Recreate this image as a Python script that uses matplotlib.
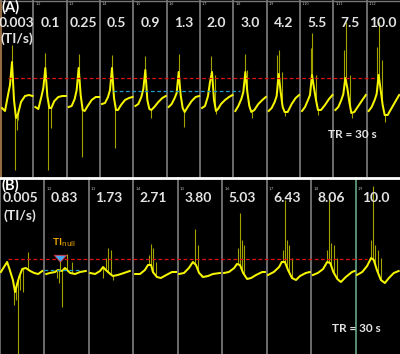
import numpy as np
import matplotlib
matplotlib.use("Agg")
import matplotlib.pyplot as plt

plt.rcParams['font.family'] = ['Lato', 'DejaVu Sans']

##########################################
# 数据 (A)：12 段，每段在相同的相对时间点上取值
##########################################
a_labels = ["0.003", "0.1", "0.25", "0.5", "0.9", "1.3", "2.0", "3.0", "4.2", "5.5", "7.5", "10.0"]
a_t = [0.06, 0.15, 0.24, 0.30, 0.36, 0.42, 0.48, 0.54, 0.63, 0.75, 0.87, 0.975]
a_trace = [
    [-8, -11, 5, 15, 38, 0, -18, -14, -2, 4, 5, 4],
    [-7, -9, 3, 12, 32, 4, -8, -8, -1, 3, 4, 4],
    [-7, -6, 1, 10, 32, 5, -10, -11, -6, 0, 3, 3],
    [-4, -3, 3, 10, 32, 2, -10, -10, -5, 0, 2, 3],
    [-6, -4, 3, 11, 30, 0, -9, -10, -7, -2, 2, 4],
    [-7, -4, 2, 7, 28, 5, -8, -12, -7, -1, 3, 4],
    [-8, -6, 4, 18, 28, 0, -11, -9, -4, 0, 3, 5],
    [-11, -6, 1, 8, 28, 8, -6, -12, -10, -4, 0, 3],
    [-11, -8, -2, 4, 26, 8, -7, -12, -12, -4, 2, 5],
    [-11, -7, 0, 5, 25, 12, 0, -10, -10, -5, 1, 5],
    [-10, -7, 0, 6, 22, 12, -2, -13, -12, -6, 0, 5],
    [-11, -7, 0, 6, 25, 10, -5, -15, -15, -8, -1, 5],
]
# 细尖峰 (段号, 相对时间, 端点幅值)
a_up = [(0, 0.36, 55), (1, 0.35, 47), (2, 0.37, 46), (3, 0.36, 45), (4, 0.35, 44),
        (5, 0.37, 46), (6, 0.33, 44), (6, 0.45, 25), (7, 0.35, 46), (7, 0.42, 30),
        (8, 0.31, 45), (8, 0.37, 50), (8, 0.45, 28), (9, 0.33, 52), (9, 0.36, 67),
        (9, 0.48, 25), (10, 0.32, 50), (10, 0.38, 78), (10, 0.50, 25),
        (11, 0.31, 53), (11, 0.37, 78), (11, 0.47, 40)]
a_down = [(0, 0.45, -70), (0, 0.51, -30), (0, 0.55, -20), (1, 0.44, -70), (1, 0.53, -28),
          (2, 0.46, -57), (3, 0.45, -48), (4, 0.53, -18), (5, 0.52, -27), (6, 0.48, -14),
          (7, 0.55, -18), (8, 0.55, -16), (9, 0.55, -15), (10, 0.56, -18), (11, 0.55, -22)]
a_red_level = 22
a_blue_level = 9

##########################################
# 数据 (B)：9 段
##########################################
b_labels = ["0.005", "0.83", "1.73", "2.71", "3.80", "5.03", "6.43", "8.06", "10.0"]
b_t = [
    [0.02, 0.09, 0.16, 0.22, 0.29, 0.34, 0.38, 0.43, 0.50, 0.58, 0.68, 0.77, 0.86, 0.95],
    [0.04, 0.12, 0.24, 0.30, 0.40, 0.46, 0.58, 0.69, 0.80, 0.93],
    [0.03, 0.14, 0.25, 0.32, 0.38, 0.48, 0.54, 0.65, 0.79, 0.92],
    [0.04, 0.15, 0.26, 0.33, 0.40, 0.44, 0.53, 0.62, 0.74, 0.87, 0.96],
    [0.03, 0.14, 0.25, 0.34, 0.41, 0.48, 0.57, 0.68, 0.79, 0.95],
    [0.04, 0.15, 0.27, 0.33, 0.40, 0.47, 0.56, 0.65, 0.76, 0.90, 0.96],
    [0.03, 0.16, 0.28, 0.34, 0.41, 0.48, 0.57, 0.66, 0.75, 0.88, 0.97],
    [0.04, 0.15, 0.27, 0.36, 0.43, 0.50, 0.59, 0.67, 0.78, 0.92, 0.98],
    [0.03, 0.15, 0.26, 0.35, 0.41, 0.48, 0.57, 0.66, 0.75, 0.86, 0.97],
]
b_trace = [
    [0, 5, 10, 2, -8, -20, -13, -5, 3, 4, 1, -1, -2, 1],
    [-2, -1, 0, 2, 1, 4, -1, -2, 0, 1],
    [-1, -2, 1, 5, 2, -2, -4, -3, -1, 1],
    [-2, -2, 2, 7, 7, 0, -5, -6, -3, 0, 0],
    [-2, -1, 4, 10, 7, -1, -5, -4, -2, -1],
    [-1, 0, 4, 8, 7, -1, -7, -6, -3, 0, 0],
    [-3, 0, 5, 10, 10, 2, -6, -8, -4, -1, 0],
    [-3, -1, 3, 10, 9, 0, -7, -10, -5, 0, 1],
    [-3, 0, 6, 14, 12, 2, -8, -11, -6, -1, 1],
]
b_up = [(0, 0.63, 20), (1, 0.35, 16), (1, 0.51, 18), (1, 0.62, 10),
        (2, 0.43, 24), (2, 0.50, 22), (2, 0.39, 14),
        (3, 0.40, 28), (3, 0.44, 24), (3, 0.35, 17), (3, 0.51, 10),
        (4, 0.39, 43), (4, 0.46, 27),
        (5, 0.40, 59), (5, 0.45, 32), (5, 0.36, 24), (5, 0.49, 27),
        (6, 0.41, 72), (6, 0.46, 32), (6, 0.37, 22), (6, 0.50, 27), (6, 0.57, 14),
        (7, 0.40, 72), (7, 0.45, 29), (7, 0.36, 22), (7, 0.52, 27), (7, 0.58, 14),
        (8, 0.39, 86), (8, 0.35, 32), (8, 0.44, 27), (8, 0.50, 22), (8, 0.57, 14)]
b_down = [(0, 0.41, -82), (0, 0.32, -33), (0, 0.36, -28), (0, 0.45, -18), (0, 0.52, -20),
          (1, 0.39, -35), (1, 0.33, -11), (1, 0.28, -6),
          (2, 0.32, -6), (2, 0.54, -8), (4, 0.52, -5)]
b_red_level = 13
b_blue_level = 2

YELLOW = '#f5f500'
OLIVE = '#a3a300'
TXT = '#e3e3e3'
SEP = '#8a8a8a'


def draw_trace(ax, times, values, up, down):
    for i, (t, v) in enumerate(zip(times, values)):
        x = i + np.array(t)
        ax.plot(x, v, color=YELLOW, lw=1.45, zorder=3, solid_joinstyle='round')
    for i, t, top in up:
        base = np.interp(t, times[i], values[i])
        ax.vlines(i + t, base, top, color=OLIVE, lw=0.8, zorder=2)
    for i, t, bot in down:
        base = np.interp(t, times[i], values[i])
        ax.vlines(i + t, bot, base, color=OLIVE, lw=0.8, zorder=2)


fig = plt.figure(figsize=(4, 3.54), dpi=100, facecolor='black')
ax_a = fig.add_axes([0, 0.5, 1, 0.5])
ax_b = fig.add_axes([0, 0, 1, 0.5])

##########################################
# 面板 A
##########################################
n_a = len(a_labels)
ax_a.set_facecolor('black')
ax_a.set_xlim(0, n_a)
ax_a.set_ylim(-77, 100)
for i in range(1, n_a):
    ax_a.axvline(i, color=SEP, lw=1.1, zorder=1)
ax_a.axvline(0.02, color='#b48250', lw=1.2, zorder=1)
ax_a.axhline(99.5, color='#777777', lw=1)
draw_trace(ax_a, [a_t] * n_a, a_trace, a_up, a_down)
ax_a.hlines(a_red_level, 0.24, 11.25, colors='#e01010', linestyles=(0, (3, 2)), lw=0.9, zorder=4)
ax_a.hlines(a_blue_level, 3.39, 7.2, colors='#1e9cc8', linestyles=(0, (3, 2)), lw=0.9, zorder=4)
for i, lab in enumerate(a_labels):
    ax_a.text(i + 0.5, 77, lab, color=TXT, fontsize=10, fontweight='bold',
              ha='center', va='center', zorder=5)
    if i > 0:
        ax_a.text(i + 0.06, 96, f"1.{i + 1}", color='#bbbbbb', fontsize=2.8, ha='left', va='center')
ax_a.text(0.04, 93, "(A)", color='white', fontsize=10.5, fontweight='bold', ha='left', va='center', zorder=5)
ax_a.text(0.52, 61, "(TI/s)", color=TXT, fontsize=10, fontweight='bold', ha='center', va='center', zorder=5)
ax_a.text(10.56, -35, "TR = 30 s", color=TXT, fontsize=8.5, fontweight='bold', ha='center', va='center')
ax_a.axis('off')

##########################################
# 面板 B
##########################################
n_b = len(b_labels)
ax_b.set_facecolor('black')
ax_b.set_xlim(0, n_b)
ax_b.set_ylim(-82, 95)
for i in range(1, n_b):
    ax_b.axvline(i, color='#6fb493' if i == n_b - 1 else SEP, lw=1.1, zorder=1)
ax_b.axvline(0.01, color='#777777', lw=1.2, zorder=1)
ax_b.axhline(94.3, color='white', lw=2, zorder=6)
draw_trace(ax_b, b_t, b_trace, b_up, b_down)
ax_b.hlines(b_red_level, 0.18, 8.26, colors='#e01010', linestyles=(0, (3, 2)), lw=0.9, zorder=4)
ax_b.hlines(b_blue_level, 0.99, 1.85, colors='#1e9cc8', linestyles=(0, (3, 2)), lw=0.9, zorder=4)
for i, lab in enumerate(b_labels):
    ax_b.text(i + 0.45, 73.5, lab, color=TXT, fontsize=10, fontweight='bold',
              ha='center', va='center', zorder=5)
    if i > 0:
        ax_b.text(i + 0.05, 83, f"1.{i + 1}", color='#bbbbbb', fontsize=2.8, ha='left', va='center')
ax_b.text(0.04, 87, "(B)", color='white', fontsize=10.5, fontweight='bold', ha='left', va='center', zorder=5)
ax_b.text(0.45, 56.5, "(TI/s)", color=TXT, fontsize=10, fontweight='bold', ha='center', va='center', zorder=5)
ax_b.text(8.02, -56, "TR = 30 s", color=TXT, fontsize=8.5, fontweight='bold', ha='center', va='center')
ax_b.text(1.43, 29, r"TI$_{\mathrm{null}}$", color='#f0a800', fontsize=7.5, fontweight='bold',
          ha='center', va='center')
ax_b.annotate('', xy=(1.36, 7), xytext=(1.36, 19),
              arrowprops=dict(arrowstyle='simple,head_width=0.9,head_length=0.5,tail_width=0.55',
                              fc='#3fa9f5', ec='#e03040', lw=0.6), zorder=6)
ax_b.axis('off')

fig.savefig("out.png", dpi=100, facecolor='black')
